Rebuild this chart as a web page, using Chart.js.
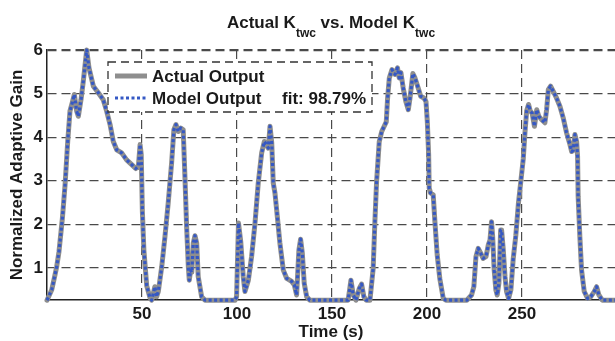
<!DOCTYPE html>
<html lang="en">
<head>
<meta charset="UTF-8">
<title>Actual Ktwc vs. Model Ktwc</title>
<script src="https://cdn.jsdelivr.net/npm/chart.js"></script>
<style>
    body {
        margin: 0;
        background: #fff;
    }
    #wrap {
        width: 615px;
        height: 341px;
    }
</style>
</head>
<body>
<div id="wrap"><canvas id="gainChart" width="615" height="341"></canvas></div>

<script>
// time axis (s)
const timeSec = [
    0, 2.5, 4, 5.1, 6.3, 8.1, 9.5, 10.9, 12.1, 13.3, 14.4, 15.6, 16.5, 17.9, 19.1, 20.9,
    22.1, 24.4, 27, 29.6, 31.4, 33.2, 34.9, 36.7, 39.3, 41.9, 44.6, 46.7, 48.1, 49, 49.6,
    50.2, 51, 52.5, 54.2, 55.1, 56.8, 57.7, 58.6, 60.4, 62.1, 63.8, 65.6, 66.8, 67.9, 69.1,
    70.4, 71.7, 72.6, 73.5, 74.4, 74.9, 75.6, 76.2, 77, 77.9, 78.8, 79.6, 81.4, 83.2, 99,
    99.8, 100.8, 102, 103.3, 104.2, 106, 107.7, 109.5, 111.2, 113, 114.4, 115.6, 116.5,
    117.4, 118.3, 119.1, 120, 120.9, 122.6, 124.4, 126.2, 128.8, 130.2, 131.4, 132.6,
    133.5, 134.4, 135.4, 136.7, 138.4, 158.5, 159.3, 160, 161.2, 162.6, 164.4, 165.6,
    166.8, 168, 170, 171.7, 172.6, 173.5, 174.9, 176.2, 177.5, 178.6, 179.3, 180.2, 181.6,
    183.2, 184.5, 185.4, 186.3, 187.5, 188.9, 190.2, 191.1, 192.6, 193.7, 195.4, 196.7,
    198.4, 199.5, 200.2, 200.9, 201.2, 201.9, 203.3, 204.2, 205.4, 206.8, 208.6, 210, 221,
    223.5, 224.7, 225.8, 227, 228.3, 229.6, 231.1, 232.3, 233.2, 234, 234.6, 235.4, 236.3,
    237, 237.9, 238.8, 239.3, 240.2, 241.1, 241.9, 243, 244.2, 245.4, 246.8, 248.2, 249.5,
    250.7, 251.6, 252.5, 253.5, 254.4, 255.4, 256.6, 257.8, 258.9, 260.4, 262.1, 263,
    263.9, 265.1, 266.5, 268.2, 270, 271.7, 273.5, 275.3, 276.2, 277, 277.9, 278.8, 279.3,
    279.6, 280.5, 281.4, 282.8, 284.6, 286.3, 288.1, 289.3, 290.5, 292.3, 299
];

const actualGain = [
    0.26, 0.5, 0.8, 1.03, 1.37, 2.14, 2.9, 3.9, 4.6, 4.79, 4.98, 4.6, 4.48, 4.86, 5.28, 6.0,
    5.59, 5.17, 5.02, 4.86, 4.6, 4.29, 3.9, 3.71, 3.64, 3.48, 3.37, 3.28, 3.33, 3.83, 3.6,
    2.3, 1.41, 0.59, 0.32, 0.26, 0.57, 0.34, 0.46, 1.03, 1.72, 2.49, 3.41, 4.17, 4.29, 4.13,
    4.21, 4.17, 3.1, 1.95, 1.03, 0.72, 0.95, 0.9, 1.57, 1.74, 1.57, 0.8, 0.34, 0.26, 0.26,
    0.34, 2.03, 1.6, 0.8, 0.46, 0.72, 1.26, 2.03, 2.95, 3.64, 3.9, 3.83, 3.75,
    4.25, 3.87, 2.95, 2.72, 2.33, 1.57, 0.95, 0.76, 0.69, 0.61, 0.38, 1.41,
    1.66, 1.34, 0.65, 0.34, 0.26, 0.26, 0.5, 0.72, 0.38, 0.26, 0.53, 0.63,
    0.34, 0.26, 0.26, 0.99, 2.06, 2.98, 3.9, 4.13, 4.25, 4.35, 4.9, 5.36, 5.55,
    5.44, 5.59, 5.36, 5.48, 5.13, 4.82, 4.63, 4.9, 5.46, 5.36, 5.13, 4.94,
    4.9, 4.82, 4.36, 3.6, 2.83, 2.72, 2.68, 2.06, 1.3, 0.75, 0.3, 0.26, 0.26,
    0.38, 0.57, 1.26, 1.45, 1.34, 1.22, 1.26, 1.53, 1.64, 2.06, 1.72, 0.95, 0.49,
    0.38, 0.65, 1.87, 1.87, 1.41, 0.8, 0.46, 0.3, 0.5, 1.2, 1.75, 2.5, 3.02,
    3.5, 4.1, 4.6, 4.75, 4.6, 4.55, 4.25, 4.63, 4.48, 4.4, 4.33, 4.63,
    5.09, 5.17, 5.05, 4.9, 4.71, 4.45, 4.1, 3.83, 3.67, 3.7, 4.06, 3.9, 3.56,
    2.64, 1.72, 0.95, 0.46, 0.3, 0.34, 0.46, 0.57, 0.38, 0.26, 0.26
];

const modelGain = [
    0.26, 0.5, 0.8, 1.03, 1.37, 2.14, 2.9, 3.9, 4.6, 4.79, 4.98, 4.6, 4.48, 4.86, 5.28, 6.0,
    5.59, 5.17, 5.02, 4.86, 4.6, 4.29, 3.9, 3.71, 3.64, 3.48, 3.37, 3.28, 3.33, 3.83, 3.6,
    2.3, 1.41, 0.59, 0.32, 0.26, 0.57, 0.34, 0.46, 1.03, 1.72, 2.49, 3.41, 4.17, 4.29, 4.13,
    4.21, 4.17, 3.1, 1.95, 1.03, 0.72, 0.95, 0.9, 1.57, 1.74, 1.57, 0.8, 0.34, 0.26, 0.26,
    0.34, 2.03, 1.6, 0.8, 0.46, 0.72, 1.26, 2.03, 2.95, 3.64, 3.9, 3.83, 3.75,
    4.25, 3.87, 2.95, 2.72, 2.33, 1.57, 0.95, 0.76, 0.69, 0.61, 0.38, 1.41,
    1.66, 1.34, 0.65, 0.34, 0.26, 0.26, 0.5, 0.72, 0.38, 0.26, 0.53, 0.63,
    0.34, 0.26, 0.26, 0.99, 2.06, 2.98, 3.9, 4.13, 4.25, 4.35, 4.9, 5.36, 5.55,
    5.44, 5.59, 5.36, 5.48, 5.13, 4.82, 4.63, 4.9, 5.46, 5.36, 5.13, 4.94,
    4.9, 4.82, 4.36, 3.6, 2.83, 2.72, 2.68, 2.06, 1.3, 0.75, 0.3, 0.26, 0.26,
    0.38, 0.57, 1.26, 1.45, 1.34, 1.22, 1.26, 1.53, 1.64, 2.06, 1.72, 0.95, 0.49,
    0.38, 0.65, 1.87, 1.87, 1.41, 0.8, 0.46, 0.3, 0.5, 1.2, 1.75, 2.5, 3.02,
    3.5, 4.1, 4.6, 4.75, 4.6, 4.55, 4.25, 4.63, 4.48, 4.4, 4.33, 4.63,
    5.09, 5.17, 5.05, 4.9, 4.71, 4.45, 4.1, 3.83, 3.67, 3.7, 4.06, 3.9, 3.56,
    2.64, 1.72, 0.95, 0.46, 0.3, 0.34, 0.46, 0.57, 0.38, 0.26, 0.26
];

const xTicks = [50, 100, 150, 200, 250];
const yTicks = [1, 2, 3, 4, 5, 6];
const seriesNames = ['Actual Output', 'Model Output'];
const fitLabel = 'fit: 98.79%';
// [text, isSubscript]
const titleParts = [['Actual K', false], ['twc', true], [' vs. Model K', false], ['twc', true]];

const FONT = "'Liberation Sans', Arial, sans-serif";
const TEXT_COLOR = '#1a1a1a';
const GRID_COLOR = '#4a4a4a';
const ACTUAL_COLOR = '#8e8e8e';
const MODEL_COLOR = '#3558c4';

function toPoints(values) {
    return timeSec.map((t, i) => ({ x: t, y: values[i] }));
}

// Title with subscripts, drawn above the chart area
const titlePlugin = {
    id: 'subscriptTitle',
    afterDraw(chart) {
        const ctx = chart.ctx;
        const area = chart.chartArea;
        const mainFont = 'bold 17px ' + FONT;
        const subFont = 'bold 12px ' + FONT;
        ctx.save();
        let total = 0;
        titleParts.forEach(p => {
            ctx.font = p[1] ? subFont : mainFont;
            total += ctx.measureText(p[0]).width;
        });
        let x = (area.left + area.right) / 2 - total / 2;
        ctx.fillStyle = TEXT_COLOR;
        ctx.textAlign = 'left';
        ctx.textBaseline = 'alphabetic';
        titleParts.forEach(p => {
            ctx.font = p[1] ? subFont : mainFont;
            ctx.fillText(p[0], x, p[1] ? 37 : 28);
            x += ctx.measureText(p[0]).width;
        });
        ctx.restore();
    }
};

// MATLAB-style legend box inside the axes
const boxLegendPlugin = {
    id: 'boxLegend',
    afterDatasetsDraw(chart) {
        const ctx = chart.ctx;
        const box = { left: 108, top: 62, right: 372, bottom: 112 };
        ctx.save();
        ctx.fillStyle = '#fff';
        ctx.fillRect(box.left, box.top, box.right - box.left, box.bottom - box.top);
        ctx.strokeStyle = '#333';
        ctx.lineWidth = 1.3;
        ctx.setLineDash([8, 5]);
        ctx.strokeRect(box.left, box.top, box.right - box.left, box.bottom - box.top);

        const rows = [76, 98];
        chart.data.datasets.forEach((ds, i) => {
            ctx.strokeStyle = ds.borderColor;
            ctx.lineWidth = ds.borderWidth;
            ctx.setLineDash(ds.borderDash || []);
            ctx.beginPath();
            ctx.moveTo(115, rows[i]);
            ctx.lineTo(147, rows[i]);
            ctx.stroke();
        });

        ctx.setLineDash([]);
        ctx.fillStyle = TEXT_COLOR;
        ctx.font = 'bold 17px ' + FONT;
        ctx.textBaseline = 'middle';
        ctx.textAlign = 'left';
        ctx.fillText(seriesNames[0], 152, rows[0] + 1);
        ctx.fillText(seriesNames[1], 152, rows[1] + 1);
        ctx.fillText(fitLabel, 282, rows[1] + 1);
        ctx.restore();
    }
};

new Chart(document.getElementById('gainChart'), {
    type: 'line',
    data: {
        datasets: [
            {
                label: seriesNames[0],
                data: toPoints(actualGain),
                borderColor: ACTUAL_COLOR,
                borderWidth: 5,
                borderJoinStyle: 'round',
                borderCapStyle: 'round',
                pointRadius: 0,
                tension: 0,
                clip: false,
                order: 2
            },
            {
                label: seriesNames[1],
                data: toPoints(modelGain),
                borderColor: MODEL_COLOR,
                borderWidth: 3.2,
                borderDash: [3, 2.5],
                borderJoinStyle: 'round',
                pointRadius: 0,
                tension: 0,
                clip: false,
                order: 1
            }
        ]
    },
    options: {
        responsive: false,
        animation: false,
        devicePixelRatio: 1,
        layout: { padding: { left: 0, top: 50, right: 0, bottom: 0 } },
        plugins: {
            legend: { display: false },
            tooltip: { enabled: false },
            title: { display: false }
        },
        scales: {
            x: {
                type: 'linear',
                min: 0,
                max: 299,
                afterBuildTicks: scale => { scale.ticks = xTicks.map(v => ({ value: v })); },
                afterFit: scale => { scale.height = 41; },
                grid: { color: GRID_COLOR, lineWidth: 1.2, drawTicks: false },
                border: { display: true, color: '#222', width: 1.5, dash: [9, 5] },
                ticks: {
                    padding: 4,
                    color: TEXT_COLOR,
                    font: { family: FONT, size: 17, weight: 'bold' },
                    maxRotation: 0
                },
                title: {
                    display: true,
                    text: 'Time (s)',
                    color: TEXT_COLOR,
                    font: { family: FONT, size: 17, weight: 'bold', lineHeight: 1 },
                    padding: { top: 0, bottom: 0 }
                }
            },
            y: {
                min: 0.265,
                max: 6,
                afterBuildTicks: scale => { scale.ticks = yTicks.map(v => ({ value: v })); },
                afterFit: scale => { scale.width = 47; },
                grid: {
                    color: GRID_COLOR,
                    lineWidth: c => (c.tick && c.tick.value === 6 ? 2.2 : 1.2),
                    drawTicks: false
                },
                border: { display: true, color: '#222', width: 1.5, dash: [9, 5] },
                ticks: {
                    padding: 4,
                    color: TEXT_COLOR,
                    font: { family: FONT, size: 17, weight: 'bold' }
                },
                title: {
                    display: true,
                    text: 'Normalized Adaptive Gain',
                    color: TEXT_COLOR,
                    font: { family: FONT, size: 17, weight: 'bold' },
                    padding: { top: 7, bottom: 0 }
                }
            }
        }
    },
    plugins: [titlePlugin, boxLegendPlugin]
});
</script>
</body>
</html>
